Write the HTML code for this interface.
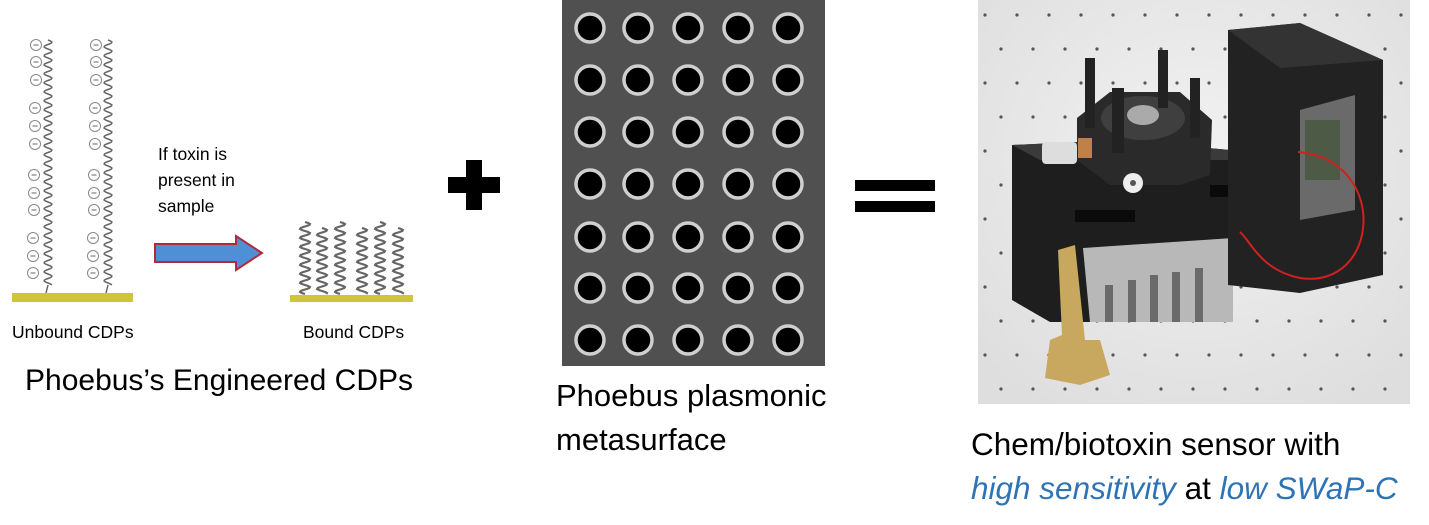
<!DOCTYPE html>
<html><head><meta charset="utf-8"><style>
html,body{margin:0;padding:0;background:#fff;}
body{width:1429px;height:525px;position:relative;overflow:hidden;font-family:"Liberation Sans","DejaVu Sans",sans-serif;}
.t{position:absolute;color:#000;white-space:nowrap;}
</style></head><body>
<svg id="s" width="1429" height="525" style="position:absolute;left:0;top:0">
<defs>
<radialGradient id="bg" cx="50%" cy="40%" r="70%"><stop offset="0" stop-color="#f2f2f2"/><stop offset="1" stop-color="#dedede"/></radialGradient>
</defs>
<rect x="12" y="293" width="121" height="9" fill="#cfc43a"/>
<rect x="290" y="295" width="123" height="7" fill="#cfc43a"/>
<polygon points="155,244 236,244 236,236 262,253 236,270 236,262 155,262" fill="#4f8fd6" stroke="#b02a3a" stroke-width="2"/>
<rect x="448" y="177" width="52" height="16" fill="#000"/>
<rect x="466" y="160" width="16" height="50" fill="#000"/>
<rect x="855" y="180" width="80" height="11" fill="#000"/>
<rect x="855" y="201" width="80" height="11" fill="#000"/>
<rect x="562" y="0" width="263" height="366" fill="#505050"/>
<g id="meta"></g>
<rect x="978" y="0" width="432" height="404" fill="url(#bg)"/>
<g id="dots" fill="#555"></g>
<polygon points="1012,145 1120,140 1230,150 1230,322 1050,322 1012,300" fill="#1e1e1e"/>
<polygon points="1012,145 1120,140 1230,150 1230,160 1040,160" fill="#3a3a3a"/>
<rect x="1075" y="210" width="60" height="12" fill="#0a0a0a"/>
<rect x="1210" y="185" width="25" height="12" fill="#0a0a0a"/>
<polygon points="1083,248 1233,238 1233,322 1090,322" fill="#b8b8b8"/>
<g fill="#6a6a6a"><rect x="1105" y="285" width="8" height="37"/><rect x="1128" y="280" width="8" height="42"/><rect x="1150" y="275" width="8" height="47"/><rect x="1172" y="272" width="8" height="50"/><rect x="1195" y="268" width="8" height="54"/></g>
<polygon points="1228,30 1300,23 1383,60 1383,275 1300,293 1228,285" fill="#222"/>
<polygon points="1228,30 1300,23 1383,60 1280,68" fill="#333"/>
<polygon points="1300,110 1355,95 1355,210 1300,220" fill="#6a6a6a"/>
<rect x="1305" y="120" width="35" height="60" fill="#4d5a45"/>
<polygon points="1077,118 1110,92 1180,92 1212,120 1210,175 1180,185 1110,185 1077,160" fill="#2a2a2a"/>
<ellipse cx="1143" cy="118" rx="42" ry="22" fill="#3f3f3f"/>
<ellipse cx="1143" cy="115" rx="16" ry="10" fill="#aaa"/>
<g fill="#222"><rect x="1085" y="58" width="10" height="70"/><rect x="1158" y="50" width="10" height="58"/><rect x="1190" y="78" width="10" height="60"/><rect x="1112" y="88" width="12" height="65"/></g>
<rect x="1042" y="142" width="35" height="22" rx="4" fill="#ddd"/>
<rect x="1078" y="138" width="14" height="20" fill="#c0804a"/>
<circle cx="1133" cy="183" r="10" fill="#eee"/><circle cx="1133" cy="183" r="3" fill="#555"/>
<path d="M1298,152 C1390,160 1380,290 1300,278 C1260,270 1250,240 1240,232" fill="none" stroke="#d02020" stroke-width="2"/>
<polygon points="1058,250 1075,245 1085,340 1100,340 1110,375 1080,385 1045,378 1050,340 1062,335" fill="#c8a85e"/>
<g id="chains" fill="none" stroke="#666" stroke-width="1.5"></g>
<g id="minus"></g>
</svg>
<div class="t" style="left:12px;top:322px;font-size:17.5px;">Unbound CDPs</div>
<div class="t" style="left:303px;top:322px;font-size:17.5px;">Bound CDPs</div>
<div class="t" style="left:158px;top:141px;font-size:17.5px;line-height:26px;">If toxin is<br>present in<br>sample</div>
<div class="t" style="left:25px;top:364px;font-size:30px;">Phoebus’s Engineered CDPs</div>
<div class="t" style="left:556px;top:374px;font-size:31px;line-height:44px;">Phoebus plasmonic<br>metasurface</div>
<div class="t" style="left:971px;top:422px;font-size:31.5px;line-height:44px;">Chem/biotoxin sensor with<br><i style="color:#2e74b5">high sensitivity</i> at <i style="color:#2e74b5">low SWaP-C</i></div>
<script>
var NS="http://www.w3.org/2000/svg";
function el(t,a,p){var e=document.createElementNS(NS,t);for(var k in a)e.setAttribute(k,a[k]);p.appendChild(e);return e;}
var meta=document.getElementById('meta');
var cx=[590,638,688,738,788],cy=[28,80,132,184,237,288,340];
cy.forEach(function(y){cx.forEach(function(x){el('circle',{cx:x,cy:y,r:14,fill:'#000',stroke:'#cfcfcf','stroke-width':3.5},meta);});});
var ch=document.getElementById('chains');
function wave(x0,y0,y1,amp,per){var p=[];for(var y=y0;y<=y1;y+=1){p.push((x0+amp*Math.sin((y-y0)/per*2*Math.PI)).toFixed(1)+','+y);}return p.join(' ');}
[48,108].forEach(function(x){el('polyline',{points:wave(x,40,285,4,9)},ch);el('line',{x1:x,y1:285,x2:x-2,y2:293},ch);});
[305,322,340,362,380,398].forEach(function(x,i){el('polyline',{points:wave(x,222+(i%2)*6,294,5,9),'stroke-width':2.2,stroke:'#666'},ch);});
var mg=document.getElementById('minus');
var ys=[45,62,80,108,126,144,175,193,210,238,256,273];
[36,96].forEach(function(x){ys.forEach(function(y,i){var xx=x-(i>8?3:i>5?2:i>2?1:0);el('circle',{cx:xx,cy:y,r:5.5,fill:'#fff',stroke:'#888','stroke-width':1},mg);el('line',{x1:xx-2.5,y1:y,x2:xx+2.5,y2:y,stroke:'#666','stroke-width':1},mg);});});
var d=document.getElementById('dots');
for(var r=0;r<12;r++)for(var c=0;c<14;c++){var x=985+c*32+(r%2)*16,y=15+r*34;if(x<1408)el('circle',{cx:x,cy:y,r:1.6},d);}
</script>
</body></html>
